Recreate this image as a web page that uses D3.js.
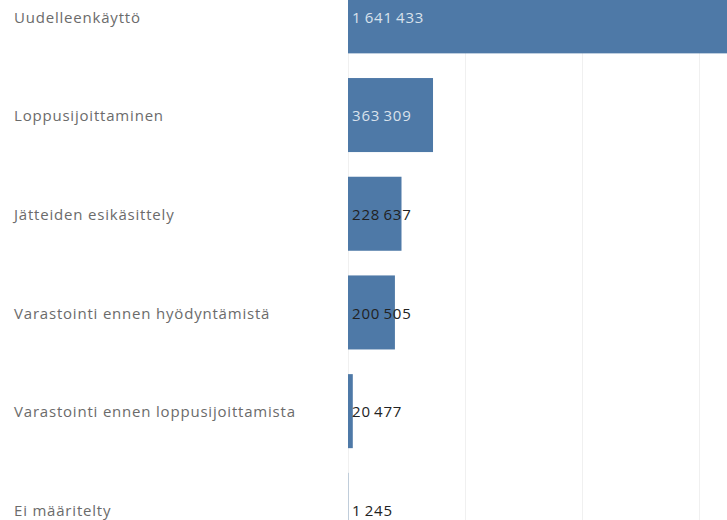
<!DOCTYPE html>
<html>
<head>
<meta charset="utf-8">
<script src="https://cdn.jsdelivr.net/npm/d3@7"></script>
<style>
  body { margin: 0; background: #fff; }
  svg { display: block; }
</style>
</head>
<body>
<svg id="chart" width="727" height="520"></svg>
<script>
const categories = [
    "Uudelleenkäyttö",
    "Loppusijoittaminen",
    "Jätteiden esikäsittely",
    "Varastointi ennen hyödyntämistä",
    "Varastointi ennen loppusijoittamista",
    "Ei määritelty"
];
const values = [1641433, 363309, 228637, 200505, 20477, 1245];
const gridTicks = [0, 500000, 1000000, 1500000];

const svg = d3.select("#chart");
const width = 727, height = 520;

const x = d3.scaleLinear().domain([0, 1500000]).range([348, 699]);
const y = d3.scaleBand()
    .domain(categories)
    .range([-33, 559.2])
    .paddingInner(0.25)
    .paddingOuter(0.125);

// "1 641 433" style grouping with thin spaces
const fmt = d => d3.format(",")(d).replace(/,/g, "\u2009");

// gridlines
svg.append("g")
    .selectAll("line")
    .data(gridTicks)
    .enter().append("line")
    .attr("x1", d => x(d) + 0.5)
    .attr("x2", d => x(d) + 0.5)
    .attr("y1", 0)
    .attr("y2", height)
    .attr("stroke", "#f0f0f0")
    .attr("stroke-width", 1);

const data = categories.map((c, i) => ({ cat: c, value: values[i] }));

// bars
svg.append("g")
    .selectAll("rect")
    .data(data)
    .enter().append("rect")
    .attr("x", x(0))
    .attr("y", d => y(d.cat))
    .attr("width", d => x(d.value) - x(0))
    .attr("height", y.bandwidth())
    .attr("fill", "#4e79a7");

const font = "'Open Sans', sans-serif";

// category labels
svg.append("g")
    .selectAll("text")
    .data(data)
    .enter().append("text")
    .attr("x", 14)
    .attr("y", d => y(d.cat) + y.bandwidth() / 2 + 1)
    .attr("dy", "0.35em")
    .attr("font-family", font)
    .attr("font-size", 15)
    .attr("letter-spacing", 0.8)
    .attr("fill", "#6b6b6b")
    .text(d => d.cat);

// value labels
svg.append("g")
    .selectAll("text")
    .data(data)
    .enter().append("text")
    .attr("x", x(0) + 4)
    .attr("y", d => y(d.cat) + y.bandwidth() / 2 + 1)
    .attr("dy", "0.35em")
    .attr("font-family", font)
    .attr("font-size", 15)
    .attr("letter-spacing", 0.8)
    .attr("fill", (d, i) => i < 2 ? "#d9e2ec" : "#222")
    .text(d => fmt(d.value));
</script>
</body>
</html>
